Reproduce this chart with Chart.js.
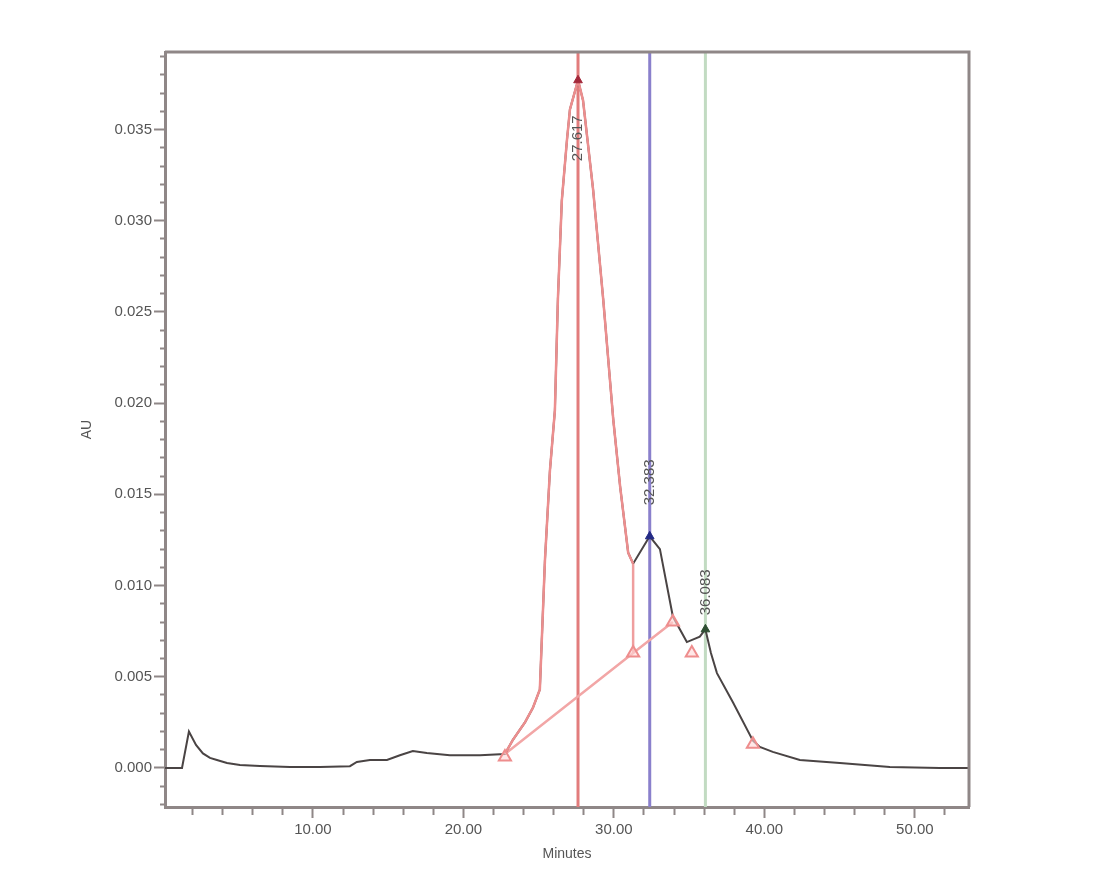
<!DOCTYPE html>
<html>
<head>
<meta charset="utf-8">
<script src="https://cdn.jsdelivr.net/npm/chart.js@4"></script>
<style>
html,body{margin:0;padding:0;background:#fff;}
#wrap{width:1108px;height:877px;}
</style>
</head>
<body>
<div id="wrap"><canvas id="c" width="1108" height="877"></canvas></div>
<script>
// ---- data (minutes, AU) ----
const traceTime = [0.17, 1.30, 1.76, 2.23, 2.69, 3.16, 3.62, 4.29, 5.15, 6.48,
  8.47, 10.47, 12.46, 12.92, 13.79, 14.92, 15.78, 16.64, 17.57, 19.10,
  21.10, 22.76, 23.29, 24.09, 24.62, 25.08, 25.42, 25.75, 26.08, 26.28,
  26.54, 26.88, 27.08, 27.62, 27.95, 28.62, 29.29, 29.96, 30.42, 30.95,
  31.28, 32.38, 33.06, 33.92, 34.85, 35.71, 36.08, 36.45, 36.85, 37.91,
  39.24, 39.70, 40.56, 42.36, 45.02, 48.34, 51.66, 53.60];
const traceAU = [0.0000, 0.0000, 0.0020, 0.00126, 0.0008, 0.00055, 0.00044, 0.00027, 0.00016, 0.00011,
  0.00005, 0.00005, 0.0001, 0.00033, 0.00044, 0.00044, 0.0007, 0.00093, 0.00082, 0.0007,
  0.0007, 0.00077, 0.00154, 0.0025, 0.0033, 0.0043, 0.0114, 0.0163, 0.0196, 0.0257,
  0.0311, 0.0344, 0.0361, 0.0377, 0.0366, 0.0317, 0.0257, 0.0191, 0.0154, 0.0118,
  0.0112, 0.0127, 0.0120, 0.0083, 0.0069, 0.0072, 0.0076, 0.0063, 0.0052, 0.0036,
  0.0015, 0.00115, 0.00088, 0.00044, 0.00027, 0.00005, 0.0, 0.0];

const peak1Start = 22.76;
const peak1End = 31.28;

const baseTime = [22.76, 31.28, 33.92];
const baseAU = [0.00077, 0.0063, 0.0080];

const markTime = [22.76, 31.28, 33.92, 35.18, 39.24];
const markAU = [0.0006, 0.0063, 0.0080, 0.0063, 0.0013];

const peakRT = [27.617, 32.383, 36.083];
const peakAU = [0.0377, 0.0127, 0.0076];
const peakLabels = ['27.617', '32.383', '36.083'];

const xMin = 0.17, xMax = 53.6;
const yMin = -0.00214, yMax = 0.03925;
const xStep = 2, xMajor = 10;
const yStep = 0.001, yMajor = 0.005;

// ---- styles ----
const axisColor = '#8f8787';
const textColor = '#555555';
const peakLineColors = ['#e27c7c', '#8a80cc', '#c2dbc2'];
const apexColors = ['#a3283a', '#232a86', '#2f4f33'];
const labelOffsets = [58, -54, -37];

const zip = (xs, ys) => xs.map((x, i) => ({x: x, y: ys[i]}));
const tracePts = zip(traceTime, traceAU);
const peak1Pts = tracePts.filter(p => p.x >= peak1Start && p.x <= peak1End);
const peak1EndAU = traceAU[traceTime.indexOf(peak1End)];
const dropPts = [{x: peak1End, y: peak1EndAU}, {x: peak1End, y: baseAU[baseTime.indexOf(peak1End)]}];

const vlineSets = peakRT.map((rt, i) => ({
  data: [{x: rt, y: yMin}, {x: rt, y: yMax}],
  borderColor: peakLineColors[i], borderWidth: 3, pointRadius: 0, order: 6
}));

const labelPlugin = {
  id: 'peakLabels',
  afterDatasetsDraw(chart) {
    const {ctx, scales: {x, y}} = chart;
    ctx.save();
    ctx.fillStyle = textColor;
    ctx.font = '15px "Liberation Sans", Arial, sans-serif';
    ctx.textAlign = 'center';
    ctx.textBaseline = 'middle';
    peakRT.forEach((rt, i) => {
      const px = x.getPixelForValue(rt);
      const py = y.getPixelForValue(peakAU[i]) + labelOffsets[i];
      ctx.save();
      ctx.translate(px, py);
      ctx.rotate(-Math.PI / 2);
      ctx.fillText(peakLabels[i], 0, 0);
      ctx.restore();
    });
    ctx.restore();
  }
};

const framePlugin = {
  id: 'frame',
  afterDraw(chart) {
    const {ctx, chartArea: a} = chart;
    ctx.save();
    ctx.strokeStyle = axisColor;
    ctx.lineWidth = 3;
    ctx.beginPath();
    ctx.moveTo(a.left, a.top);
    ctx.lineTo(a.right, a.top);
    ctx.lineTo(a.right, a.bottom);
    ctx.stroke();
    ctx.restore();
  }
};

const isMajor = (v, step) => Math.abs(v / step - Math.round(v / step)) < 1e-6;
const minorDashY = [0, 6, 6, 100];
const minorDashX = [6, 100];

new Chart(document.getElementById('c'), {
  type: 'line',
  data: {
    datasets: [
      {data: zip(markTime, markAU), showLine: false, pointStyle: 'triangle', pointRadius: 7,
       pointBorderColor: '#ee8d8d', pointBackgroundColor: 'rgba(255,215,215,0.6)', pointBorderWidth: 2, order: 0},
      {data: zip(peakRT, peakAU), showLine: false, pointStyle: 'triangle', pointRadius: 5,
       pointBorderColor: apexColors, pointBackgroundColor: apexColors, order: 1},
      {data: peak1Pts, borderColor: '#ec8e8e', borderWidth: 2.5, pointRadius: 0, order: 2},
      {data: dropPts, borderColor: '#ef9e9e', borderWidth: 2.5, pointRadius: 0, order: 2},
      {data: tracePts, borderColor: '#4a4444', borderWidth: 2, pointRadius: 0, order: 3},
      {data: zip(baseTime, baseAU), borderColor: '#f2a6a6', borderWidth: 2.5, pointRadius: 0, order: 4},
      ...vlineSets
    ]
  },
  options: {
    responsive: false,
    animation: false,
    devicePixelRatio: 1,
    layout: {padding: {left: 0, top: 52, right: 139, bottom: 0}},
    plugins: {legend: {display: false}, tooltip: {enabled: false}},
    elements: {line: {tension: 0}},
    scales: {
      x: {
        type: 'linear', min: xMin, max: xMax,
        afterFit(s) { s.height = 70; },
        border: {color: axisColor, width: 3},
        grid: {drawOnChartArea: false, tickLength: 11, tickColor: axisColor, tickWidth: 2,
               tickBorderDash: c => isMajor(c.tick.value, xMajor) ? [] : minorDashX},
        ticks: {stepSize: xStep, includeBounds: false, autoSkip: false, maxRotation: 0,
                padding: 3, color: textColor,
                font: {family: '"Liberation Sans", Arial, sans-serif', size: 15},
                callback: v => isMajor(v, xMajor) ? v.toFixed(2) : ''},
        title: {display: true, text: 'Minutes', color: textColor,
                font: {family: '"Liberation Sans", Arial, sans-serif', size: 14},
                padding: {top: 0, bottom: 14}}
      },
      y: {
        type: 'linear', min: yMin, max: yMax,
        afterFit(s) { s.width = 165; },
        border: {color: axisColor, width: 3},
        grid: {drawOnChartArea: false, tickLength: 11, tickColor: axisColor, tickWidth: 2,
               tickBorderDash: c => isMajor(c.tick.value, yMajor) ? [] : minorDashY},
        ticks: {stepSize: yStep, includeBounds: false, autoSkip: false, padding: 2,
                color: textColor,
                font: {family: '"Liberation Sans", Arial, sans-serif', size: 15},
                callback: v => isMajor(v, yMajor) ? v.toFixed(3) : ''},
        title: {display: true, text: 'AU', color: textColor,
                font: {family: '"Liberation Sans", Arial, sans-serif', size: 14},
                padding: {top: 79, bottom: 0}}
      }
    }
  },
  plugins: [labelPlugin, framePlugin]
});
</script>
</body>
</html>
